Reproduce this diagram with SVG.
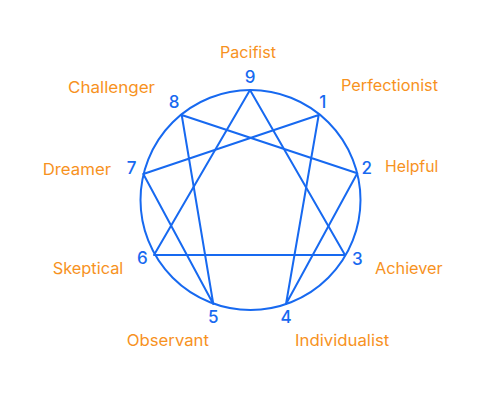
<svg xmlns="http://www.w3.org/2000/svg" width="500" height="400" viewBox="0 0 500 400">
<style>
.ln{fill:none;stroke:#1769f0;stroke-width:2;stroke-linejoin:round;stroke-linecap:round}
.num{font-family:Inter,"Noto Sans",sans-serif;font-size:17px;font-weight:500;fill:#1769f0;text-anchor:middle}
.lbl{font-family:Inter,"Noto Sans",sans-serif;font-size:16px;fill:#f7921e}
</style>
<rect width="500" height="400" fill="#fff"/>
<g id="connectors">
<circle class="ln" cx="250.5" cy="200" r="110"/>
<polygon class="ln" points="250,90 345,255 154,255"/>
<polygon class="ln" points="318.7,115 286,304 357.3,173.3 181.7,115 213.3,304 143.3,174"/>
</g>
<g id="n9"><text class="num" x="250" y="83">9</text><text class="lbl" x="220" y="58" textLength="56" lengthAdjust="spacingAndGlyphs">Pacifist</text></g>
<g id="n1"><text class="num" x="322.7" y="108">1</text><text class="lbl" x="341" y="91" textLength="97" lengthAdjust="spacingAndGlyphs">Perfectionist</text></g>
<g id="n2"><text class="num" x="366.7" y="174">2</text><text class="lbl" x="385" y="172" textLength="53.3" lengthAdjust="spacingAndGlyphs">Helpful</text></g>
<g id="n3"><text class="num" x="357.3" y="265">3</text><text class="lbl" x="375" y="274" textLength="67.7" lengthAdjust="spacingAndGlyphs">Achiever</text></g>
<g id="n4"><text class="num" x="286" y="323">4</text><text class="lbl" x="295" y="346" textLength="94.3" lengthAdjust="spacingAndGlyphs">Individualist</text></g>
<g id="n5"><text class="num" x="213.3" y="323">5</text><text class="lbl" x="126.7" y="346" textLength="82.3" lengthAdjust="spacingAndGlyphs">Observant</text></g>
<g id="n6"><text class="num" x="142.3" y="264">6</text><text class="lbl" x="52.7" y="274" textLength="70.6" lengthAdjust="spacingAndGlyphs">Skeptical</text></g>
<g id="n7"><text class="num" x="131.7" y="174">7</text><text class="lbl" x="42.7" y="175" textLength="68.3" lengthAdjust="spacingAndGlyphs">Dreamer</text></g>
<g id="n8"><text class="num" x="174" y="108">8</text><text class="lbl" x="68" y="93" textLength="87" lengthAdjust="spacingAndGlyphs">Challenger</text></g>
</svg>
